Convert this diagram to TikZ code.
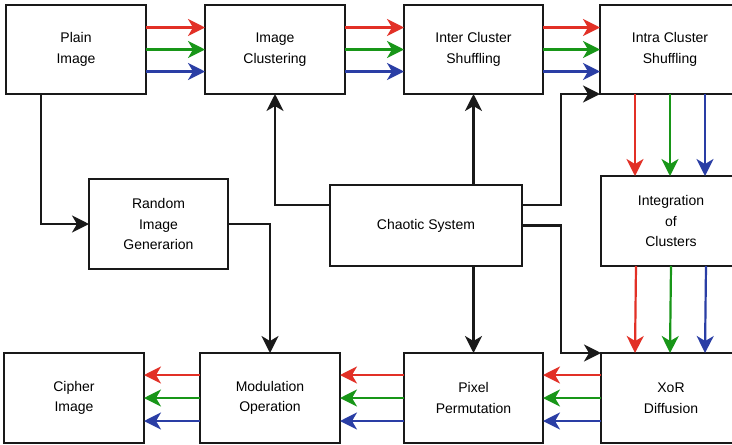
\documentclass[tikz,border=0pt]{standalone}
\usepackage{fontspec}
\setmainfont{Liberation Sans}
\usetikzlibrary{arrows.meta,calc}
\definecolor{cred}{RGB}{226,48,38}
\definecolor{cgreen}{RGB}{24,150,24}
\definecolor{cblue}{RGB}{42,62,165}
\tikzset{
  blk/.style={draw=black!90, line width=2.6pt, fill=white, align=center,
    inner sep=0pt, outer sep=0pt, font=\fontsize{14}{20.5}\selectfont},
  tip/.style={-{Stealth[length=17pt,width=17pt,inset=5pt]}},
  conn/.style={tip, line width=2.4pt, draw=black!90},
  rarr/.style={tip, line width=2.2pt, draw=cred, color=cred},
  garr/.style={tip, line width=2.2pt, draw=cgreen, color=cgreen},
  barr/.style={tip, line width=2.2pt, draw=cblue, color=cblue},
}
\begin{document}
\begin{tikzpicture}[x=1pt,y=-1pt]
\clip (0,0) rectangle (732,445);
\fill[white] (0,0) rectangle (732,445);
% top row
\node[blk, minimum width=140pt, minimum height=89pt] (plain) at (76,49.5) {Plain\\Image};
\node[blk, minimum width=140pt, minimum height=89pt] (clus) at (275,49.5) {Image\\Clustering};
\node[blk, minimum width=139pt, minimum height=89pt] (inter) at (473.5,49.5) {Inter Cluster\\Shuffling};
\node[blk, minimum width=140pt, minimum height=89pt] (intra) at (670,49.5) {Intra Cluster\\Shuffling};
% middle row
\node[blk, minimum width=139pt, minimum height=90pt] (random) at (158.5,224) {Random\\Image\\Generarion};
\node[blk, minimum width=192pt, minimum height=81pt] (chaos) at (426,225.5) {Chaotic System};
\node[blk, minimum width=140pt, minimum height=90pt] (integ) at (671,221) {Integration\\of\\Clusters};
% bottom row
\node[blk, minimum width=140pt, minimum height=90pt] (cipher) at (74,398) {Cipher\\Image};
\node[blk, minimum width=140pt, minimum height=90pt] (modul) at (270,398) {Modulation\\Operation};
\node[blk, minimum width=139pt, minimum height=90pt] (pixel) at (473.5,398) {Pixel\\Permutation};
\node[blk, minimum width=140pt, minimum height=90pt] (xor) at (671,398) {XoR\\Diffusion};
% junction column
\coordinate (j1) at (561,225);
% horizontal colored arrows, top row
\foreach \a/\b in {plain/clus, clus/inter, inter/intra}{
  \draw[rarr] ([yshift=22pt]\a.east) -- ([yshift=22pt]\b.west);
  \draw[garr] (\a.east) -- (\b.west);
  \draw[barr] ([yshift=-22pt]\a.east) -- ([yshift=-22pt]\b.west);
}
% horizontal colored arrows, bottom row (right to left)
\foreach \a/\b in {xor/pixel, pixel/modul, modul/cipher}{
  \draw[rarr] ([yshift=23pt]\a.west) -- ([yshift=23pt]\b.east);
  \draw[garr] (\a.west) -- (\b.east);
  \draw[barr] ([yshift=-23pt]\a.west) -- ([yshift=-23pt]\b.east);
}
% vertical colored arrows
\foreach \a/\b in {intra/integ, integ/xor}{
  \draw[rarr] ([xshift=-35pt]\a.south) -- ([xshift=-36pt]\b.north);
  \draw[garr] (\a.south) -- ([xshift=-1pt]\b.north);
  \draw[barr] ([xshift=35pt]\a.south) -- ([xshift=34pt]\b.north);
}
% black connectors
\draw[conn] ([xshift=-35pt]plain.south) |- (random.west);
\draw[conn] (random.east) -| (modul.north);
\draw[conn] ([yshift=20.5pt]chaos.west) -| (clus.south);
\draw[conn] (chaos.north -| inter.south) -- (inter.south);
\draw[conn] (chaos.south -| pixel.north) -- (pixel.north);
\draw[conn] ([yshift=20.5pt]chaos.east) -- ([yshift=20.5pt]chaos.east -| j1) -- (j1 |- intra.south west) -- (intra.south west);
\draw[conn] (chaos.east) -- (chaos.east -| j1) -- (j1 |- xor.north west) -- (xor.north west);
\end{tikzpicture}
\end{document}
